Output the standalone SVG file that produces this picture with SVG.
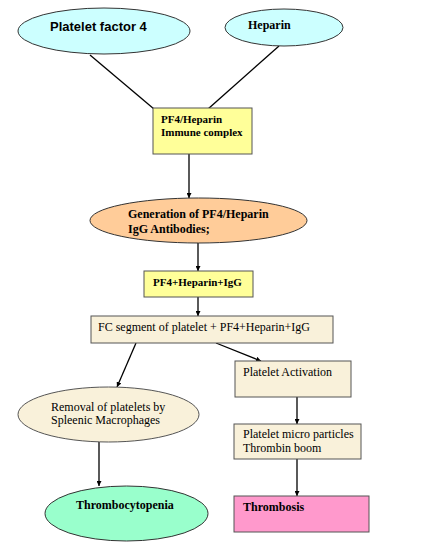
<svg xmlns="http://www.w3.org/2000/svg" width="432" height="554" viewBox="0 0 432 554">
<style>
.blue{fill:#CCFFFF;stroke:#333;stroke-width:1}
.yel{fill:#FFFF99;stroke:#555;stroke-width:1}
.beige{fill:#F9F1DA;stroke:#555;stroke-width:1}
.peach{fill:#FFCC99;stroke:#333;stroke-width:1}
.green{fill:#99FFCC;stroke:#333;stroke-width:1}
.pink{fill:#FF99CC;stroke:#555;stroke-width:1}
.sb{font-family:"Liberation Sans",Arial,sans-serif;font-weight:bold;fill:#000}
.tb{font-family:"Liberation Serif","Times New Roman",serif;font-weight:bold;fill:#000}
.tr{font-family:"Liberation Serif","Times New Roman",serif;fill:#000}
.ln{stroke:#000;stroke-width:1.3;fill:none}
</style>
<defs>
<marker id="ah" viewBox="0 0 10 10" refX="10" refY="5" markerWidth="5" markerHeight="5" markerUnits="userSpaceOnUse" orient="auto">
<path d="M0,0 L10,5 L0,10 z" fill="#000"/>
</marker>
</defs>
<rect width="432" height="554" fill="#fff"/>
<g id="connectors">
<line class="ln" x1="90" y1="55" x2="154" y2="109"/>
<line class="ln" x1="279" y1="46" x2="208" y2="109"/>
<line class="ln" x1="189" y1="154" x2="189" y2="198" marker-end="url(#ah)"/>
<line class="ln" x1="198" y1="243" x2="198" y2="271" marker-end="url(#ah)"/>
<line class="ln" x1="198" y1="297" x2="198" y2="316" marker-end="url(#ah)"/>
<line class="ln" x1="136" y1="343" x2="117" y2="387" marker-end="url(#ah)"/>
<line class="ln" x1="216" y1="343" x2="261" y2="361" marker-end="url(#ah)"/>
<line class="ln" x1="297" y1="397" x2="297" y2="424" marker-end="url(#ah)"/>
<line class="ln" x1="99" y1="442" x2="99" y2="486" marker-end="url(#ah)"/>
<line class="ln" x1="297" y1="459" x2="297" y2="496" marker-end="url(#ah)"/>
</g>
<g id="pf4">
<ellipse class="blue" cx="104" cy="31" rx="86" ry="23"/>
<text class="sb" x="50" y="31" font-size="13">Platelet factor 4</text>
</g>
<g id="heparin">
<ellipse class="blue" cx="284" cy="27.5" rx="59" ry="18.5"/>
<text class="tb" x="248" y="29" font-size="12">Heparin</text>
</g>
<g id="complex">
<rect class="yel" x="153" y="108" width="99" height="46"/>
<text class="tb" x="161" y="123" font-size="11">PF4/Heparin</text>
<text class="tb" x="161" y="136" font-size="11">Immune complex</text>
</g>
<g id="generation">
<ellipse class="peach" cx="198.5" cy="220.5" rx="108.5" ry="22.5"/>
<text class="tb" x="128" y="218" font-size="12">Generation of PF4/Heparin</text>
<text class="tb" x="128" y="233" font-size="12">IgG Antibodies;</text>
</g>
<g id="pf4igg">
<rect class="yel" x="144" y="271" width="109" height="26"/>
<text class="tb" x="153" y="286" font-size="11">PF4+Heparin+IgG</text>
</g>
<g id="fc">
<rect class="beige" x="91" y="316" width="242" height="27"/>
<text class="tr" x="98" y="331" font-size="12">FC segment of platelet + PF4+Heparin+IgG</text>
</g>
<g id="activation">
<rect class="beige" x="235" y="361" width="116" height="36"/>
<text class="tr" x="243" y="376" font-size="12">Platelet Activation</text>
</g>
<g id="removal">
<ellipse class="beige" cx="108.5" cy="414.5" rx="90.5" ry="27.5"/>
<text class="tr" x="51" y="411" font-size="12">Removal of platelets by</text>
<text class="tr" x="51" y="424" font-size="12">Spleenic Macrophages</text>
</g>
<g id="microparticles">
<rect class="beige" x="234" y="424" width="127" height="35"/>
<text class="tr" x="243" y="438" font-size="12">Platelet micro particles</text>
<text class="tr" x="243" y="452" font-size="12">Thrombin boom</text>
</g>
<g id="thrombocytopenia">
<ellipse class="green" cx="126.5" cy="513.5" rx="81.5" ry="27.5"/>
<text class="tb" x="76" y="509" font-size="12">Thrombocytopenia</text>
</g>
<g id="thrombosis">
<rect class="pink" x="234" y="496" width="135" height="36"/>
<text class="tb" x="243" y="511" font-size="12">Thrombosis</text>
</g>
</svg>
